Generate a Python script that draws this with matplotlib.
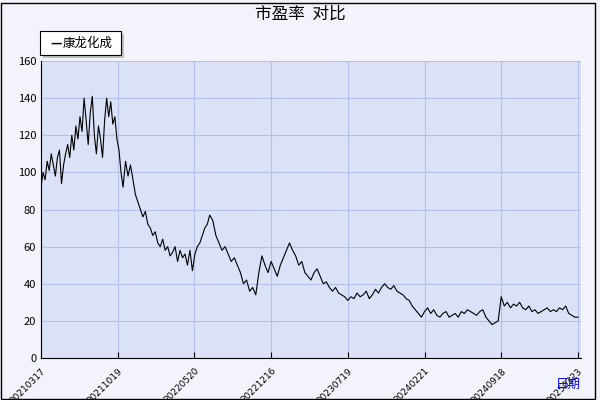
import matplotlib
matplotlib.use("Agg")
import matplotlib.pyplot as plt
import numpy as np
from matplotlib.patches import Rectangle

plt.rcParams['font.family'] = ['Noto Sans CJK SC', 'DejaVu Sans']

tick_labels = ["20210317", "20211019", "20220520", "20221216", "20230719", "20240221", "20240918", "20250323"]
series_name = "康龙化成"
pe = [92, 100, 96, 106, 101, 110, 104, 98, 108, 112, 94, 104, 110, 115, 108, 120, 112, 125, 118, 130, 122, 140, 128, 115, 132, 141, 120, 110, 125, 118, 108, 128, 140, 130, 138, 126,
      130, 118, 112, 100, 92, 106, 98, 104, 96, 88, 84, 80, 76, 79, 72, 70, 66, 68, 62, 60, 64, 58, 60, 55, 57, 60, 52, 58, 54, 56, 50, 58, 47, 56, 60, 62,
      66, 70, 72, 77, 74, 66, 62, 58, 60, 56, 52, 54, 50, 46, 40, 42, 36, 38, 34, 46, 55, 50, 46, 52, 48, 44, 50, 54, 58, 62, 58, 55, 50, 52, 46, 44,
      42, 46, 48, 44, 40, 41, 38, 36, 38, 35, 34, 33, 31, 33, 32, 35, 33, 34, 36, 32, 34, 37, 35, 38, 40, 38, 37, 39, 36, 35, 34, 32, 31, 28, 26, 24,
      22, 25, 27, 24, 26, 23, 22, 24, 25, 22, 23, 24, 22, 25, 24, 26, 25, 24, 23, 25, 26, 22, 20, 18, 19, 20, 33, 28, 30, 27, 29, 28, 30, 27, 26, 28,
      25, 26, 24, 25, 26, 27, 25, 26, 25, 27, 26, 28, 24, 23, 22, 22]
# date anchors: (sample index, position in tick units)
anchor_idx = [0, 40, 75, len(pe) - 1]
anchor_pos = [0.0, 1.07, 2.2, 7.0]

xs = np.interp(np.arange(len(pe)), anchor_idx, anchor_pos)

fig = plt.figure(figsize=(6, 4), dpi=100)
fig.patch.set_facecolor('#f2f3fb')
ax = fig.add_axes([41/600, 1-358/400, (581-41)/600, (358-61)/400])
ax.set_facecolor('#dbe1f7')
ax.plot(xs, pe, color='black', lw=0.8)
ax.set_xlim(0, 7.04)
ax.set_ylim(0, 160)
ax.set_yticks(range(0, 161, 20))
ax.set_xticks(range(8))
ax.set_xticklabels(tick_labels, rotation=45, ha='right', va='top', rotation_mode='anchor',
                   fontsize=6.5, family='DejaVu Sans')
ax.tick_params(axis='y', labelsize=8, direction='in', length=0)
ax.tick_params(axis='x', direction='in', length=4, pad=6)
ax.grid(True, color='#b4c0e8', lw=0.8)
for s in ['top', 'right']:
    ax.spines[s].set_visible(False)
ax.text(1.0, -0.1, "日期", transform=ax.transAxes, color='blue', fontsize=9, ha='right')
fig.text(0.5, 0.965, "市盈率  对比", ha='center', va='center', fontsize=12)
fig.patches.append(Rectangle((43/600, 1-58/400), 81/600, 24/400, transform=fig.transFigure, facecolor='#c0c0c0', edgecolor='none'))
fig.patches.append(Rectangle((40/600, 1-55/400), 81/600, 24/400, transform=fig.transFigure, facecolor='white', edgecolor='black', lw=0.8))
fig.text(50/600, 1-43/400, "—", fontsize=9, va='center', fontweight='bold')
fig.text(63/600, 1-43/400, series_name, fontsize=9, va='center')
fig.patches.append(Rectangle((0.002, 0.002), 0.99, 0.99, transform=fig.transFigure, fill=False, edgecolor='black', lw=1))
fig.savefig("out.png", dpi=100, facecolor=fig.get_facecolor())
